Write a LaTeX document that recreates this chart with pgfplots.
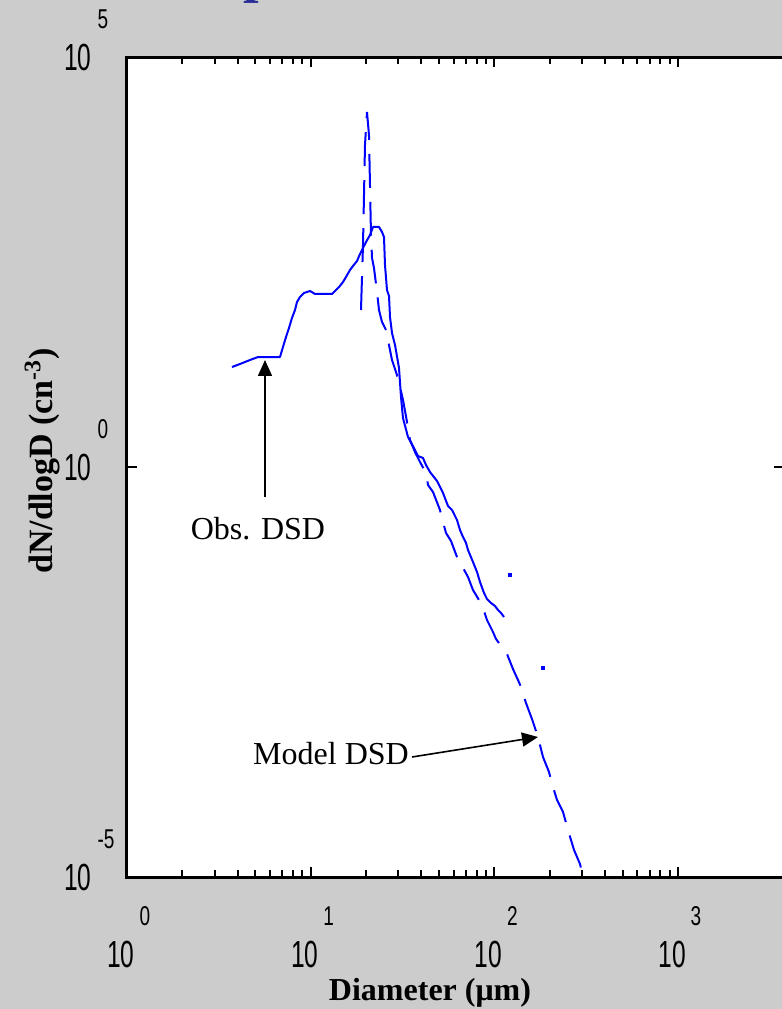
\documentclass[border=0pt]{standalone}
\usepackage{fontspec}
\setmainfont{Liberation Serif}
\newfontfamily\tickfont{Liberation Sans}
\usepackage{graphicx}
\usepackage{pgfplots}
\usepackage{pgfplotstable}
\pgfplotsset{compat=1.18}
\usetikzlibrary{arrows.meta}

\definecolor{bg}{RGB}{204,204,204}
\definecolor{titleblue}{RGB}{40,45,150}

% one pixel of the reference = 0.5pt
\newlength\px \setlength\px{0.5pt}
\newcommand\tenf{\tickfont\fontsize{18.9pt}{20pt}\selectfont}
\newcommand\expf{\tickfont\fontsize{13.6pt}{15pt}\selectfont}
% "10" with its exponent set above and to the right
\newcommand\xtl[1]{\makebox[0pt]{\scalebox{0.65}[1]{\tenf 10}\kern12\px}\makebox[0pt]{\kern36\px\raisebox{42\px}{\scalebox{0.7}[1]{\expf #1}}}}
\newcommand\ytl[1]{\scalebox{0.65}[1]{\tenf 10}\rlap{\kern6\px\raisebox{42\px}{\scalebox{0.7}[1]{\expf #1}}}}

% observed DSD
\pgfplotstableread{
d n
3.731 16.58
4.124 18.04
4.674 20.18
5.167 21.95
6.808 21.95
7.069 29.07
7.340 38.49
7.621 49.56
7.912 65.63
8.216 82.14
8.425 102.9
8.746 118.4
9.198 132.4
9.917 140.1
10.56 128.8
13.07 128.8
13.73 144.0
14.27 156.7
15.00 180.4
15.57 207.6
16.37 252.6
17.00 282.6
17.88 325.3
18.56 395.9
19.27 468.5
20.01 554.4
21.04 675.0
21.85 845.1
23.55 845.1
24.45 734.4
25.07 638.1
25.39 290.7
26.03 144.0
26.70 121.7
27.03 67.50
27.72 43.07
28.79 30.74
30.26 16.12
31.03 7.140
31.81 3.959
33.88 2.322
36.52 1.705
38.40 1.362
40.89 1.287
42.46 1.058
44.64 0.8690
48.74 0.6749
52.54 0.4819
55.94 0.3345
58.82 0.2990
62.61 0.2258
65.02 0.1705
67.51 0.1401
70.10 0.1184
71.88 0.09723
76.53 0.06943
80.47 0.05243
83.55 0.03959
87.84 0.02907
91.20 0.02456
95.90 0.02196
100.8 0.02018
104.7 0.01804
108.7 0.01658
112.9 0.01482
}\obs

% model DSD
\pgfplotstableread{
d n
18.79 82.14
19.27 509.7
19.76 8451
20.26 21350
20.77 11190
21.30 675.0
21.58 353.9
22.12 267.2
22.97 136.2
23.55 82.14
24.46 58.66
25.71 46.85
26.70 30.74
27.72 20.18
29.15 14.41
30.26 10.88
31.82 6.563
33.46 3.538
34.74 2.135
36.98 1.524
39.38 1.151
42.46 0.8449
43.54 0.6032
46.35 0.4955
50.60 0.2990
52.54 0.2135
54.56 0.1567
58.08 0.1252
62.62 0.07987
66.68 0.06203
71.89 0.04556
76.52 0.03162
85.66 0.02075
91.20 0.01362
98.33 0.009722
102.1 0.007990
117.2 0.005243
126.3 0.003440
134.5 0.002526
139.7 0.002076
148.7 0.001324
160.3 0.0008450
172.9 0.0005098
184.0 0.0002907
198.5 0.0001908
206.1 0.0001362
219.4 0.00008690
236.5 0.00006203
251.8 0.00003741
271.5 0.00002135
292.7 0.00001440
303.9 0.00001
319.6 0.000006943
}\model

\begin{document}
\begin{tikzpicture}
\path[use as bounding box] (0,0) rectangle (391pt,504.5pt);
\fill[bg] (0,0) rectangle (391pt,504.5pt);
\clip (0,0) rectangle (391pt,504.5pt);

\begin{axis}[
  at={(63.5pt,66pt)}, anchor=south west,
  scale only axis, width=328.5pt, height=410pt,
  xmode=log, ymode=log,
  xmin=1, xmax=3776, ymin=1e-5, ymax=1e5,
  axis background/.style={fill=white},
  axis line style={line width=1.5pt},
  tick align=inside, tick pos=both,
  major tick length=5pt, minor tick length=3.5pt,
  tick style={black, line width=1pt},
  xtick={1,10,100,1000},
  xticklabels={\xtl{0},\xtl{1},\xtl{2},\xtl{3}},
  ytick={1e-5,1,1e5},
  yticklabels={\ytl{-5},\ytl{0},\ytl{5}},
  yminorticks=false,
  xticklabel style={anchor=north, inner sep=0pt, yshift=-14.5pt},
  yticklabel style={anchor=base east, inner sep=0pt, xshift=-17.5pt, yshift=-6.75pt},
]
\addplot[blue, line width=1pt, line join=round] table {\obs};
\addplot[blue, line width=1pt, dash pattern=on 17pt off 7pt] table {\model};
\addplot[only marks, blue, mark=square*, mark size=0.6pt] coordinates {(121.7,0.04818) (184.1,0.003538)};
\end{axis}

% annotations, in pixel units of the reference (y downwards)
\begin{scope}[x=0.5pt, y=-0.5pt, yshift=504.5pt]
  \draw[line width=0.8pt, -{Triangle[length=8pt,width=7pt]}] (265,497) -- (265,360);
  \node[anchor=base, inner sep=0pt, font=\fontsize{16pt}{18pt}\selectfont] at (258,540) {Obs. DSD};
  \node[anchor=base, inner sep=0pt, font=\fontsize{16pt}{18pt}\selectfont] at (331,765) {Model DSD};
  \draw[line width=0.8pt, -{Triangle[length=8pt,width=7pt]}] (412,757) -- (538,737);
  \node[anchor=base, inner sep=0pt, font=\bfseries\fontsize{16pt}{18pt}\selectfont] at (430,1000) {Diameter (μm)};
  \node[rotate=90, anchor=base, inner sep=0pt, font=\bfseries\fontsize{17pt}{19pt}\selectfont] at (53,461) {dN/dlogD (cn\textsuperscript{-3})};
  \node[anchor=base west, inner sep=0pt, text=titleblue, font=\bfseries\fontsize{28pt}{30pt}\selectfont] at (243,-8) {p};
\end{scope}
\end{tikzpicture}
\end{document}
